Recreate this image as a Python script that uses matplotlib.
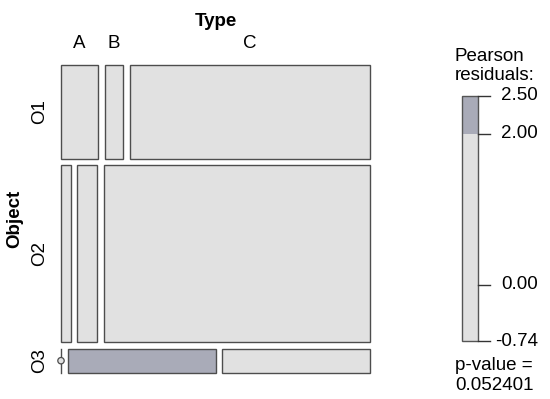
import numpy as np
import matplotlib
matplotlib.use("Agg")
import matplotlib.pyplot as plt
from matplotlib.patches import Rectangle, Circle

plt.rcParams['font.family'] = ['Liberation Sans', 'DejaVu Sans']

# contingency table: rows = Object, columns = Type
objects = ["O1", "O2", "O3"]
types = ["A", "B", "C"]
counts = np.array([[2, 1, 13],
                   [1, 2, 27],
                   [0, 2, 2]])

legend_ticks = [-0.74, 0.00, 2.00, 2.50]
p_value = 0.052401

light = "#e1e1e1"
dark = "#a9abb8"
edge = "#4d4d4d"
fs = 13.5

# pearson residuals -> shading
N = counts.sum()
expected = np.outer(counts.sum(1), counts.sum(0)) / N
resid = (counts - expected) / np.sqrt(expected)

W, H = 550, 399
fig = plt.figure(figsize=(W / 100, H / 100), dpi=100)
ax = fig.add_axes([0, 0, 1, 1])
ax.set_xlim(0, W)
ax.set_ylim(H, 0)
ax.axis("off")

# mosaic frame (pixels)
x0, y0, mw, mh, gap = 61, 64.5, 309, 308, 6.5

row_tot = counts.sum(1)
avail_h = mh - gap * (len(objects) - 1)
y = y0
for i, obj in enumerate(objects):
    h = avail_h * row_tot[i] / N
    avail_w = mw - gap * (len(types) - 1)
    x = x0
    for j, t in enumerate(types):
        w = avail_w * counts[i, j] / row_tot[i]
        if counts[i, j] == 0:
            ax.plot([x, x], [y, y + h], color=edge, lw=1.0)
            ax.add_patch(Circle((x, y + h / 2), 3.2, facecolor=light,
                                edgecolor=edge, lw=0.9, zorder=3))
        else:
            fc = dark if resid[i, j] > 2 else light
            ax.add_patch(Rectangle((x, y), w, h, facecolor=fc,
                                   edgecolor=edge, lw=1.0))
        if i == 0:
            ax.text(x + w / 2, 48.5, t, fontsize=fs, ha="center", va="baseline")
        x += w + gap
    ax.text(40, y + h / 2, obj, fontsize=fs, rotation=90,
            ha="center", va="center")
    y += h + gap

ax.text(x0 + mw / 2, 26, "Type", fontsize=fs, fontweight="bold",
        ha="center", va="baseline")
ax.text(15, y0 + mh / 2, "Object", fontsize=fs, fontweight="bold",
        rotation=90, ha="center", va="center")

# legend
lax = fig.add_axes([461.7 / W, (H - 341) / H, 16 / W, 245.3 / H])
lo, hi = legend_ticks[0], legend_ticks[-1]
lax.set_xlim(0, 1)
lax.set_ylim(lo, hi)
lax.axis("off")
lax.add_patch(Rectangle((0, lo), 1, 2.0 - lo, facecolor=light, edgecolor="none"))
lax.add_patch(Rectangle((0, 2.0), 1, hi - 2.0, facecolor=dark, edgecolor="none"))
lax.add_patch(Rectangle((0, lo), 1, hi - lo, facecolor="none",
                        edgecolor="#555555", lw=1.0, clip_on=False))
for v in legend_ticks:
    lax.plot([1, 1.77], [v, v], color="#333333", lw=1.0, clip_on=False)
    lax.text(4.77, v, f"{v:.2f}", fontsize=fs, ha="right", va="center")

ax.text(455, 60.7, "Pearson", fontsize=fs, ha="left", va="baseline")
ax.text(455, 80, "residuals:", fontsize=fs, ha="left", va="baseline")
ax.text(455, 370.5, "p-value =", fontsize=fs, ha="left", va="baseline")
ax.text(455, 390.5, f"{p_value:.6f}", fontsize=fs, ha="left", va="baseline")

fig.savefig("out.png", dpi=100)
